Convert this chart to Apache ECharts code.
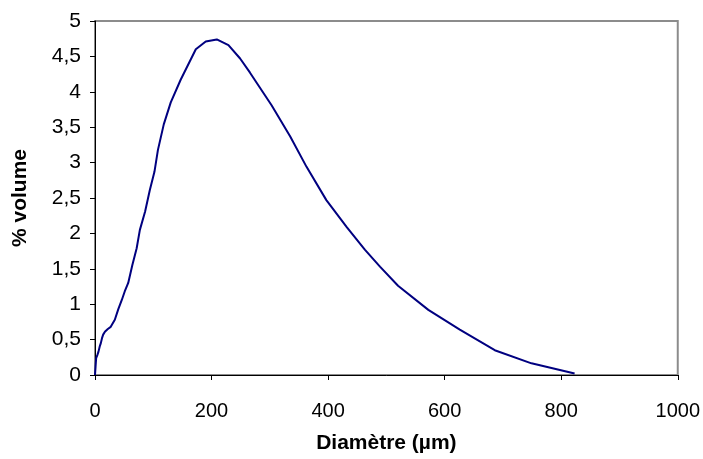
<!DOCTYPE html>
<html>
<head>
<meta charset="utf-8">
<script src="https://cdn.jsdelivr.net/npm/echarts@6/dist/echarts.min.js"></script>
<style>
html, body { margin: 0; padding: 0; background: #fff; }
#chart { width: 703px; height: 459px; }
</style>
</head>
<body>
<div id="chart"></div>
<script>
// diamètre (µm) et % volume
var diametres = [0, 1, 2, 4, 6, 8, 10, 12, 14, 17, 22, 27, 34, 40, 46, 51, 57, 64, 71.5, 77, 86, 94, 102, 108, 118, 130, 147, 173, 190, 209, 229, 249, 266, 303, 335, 363, 397, 432, 463, 489, 520, 572, 626, 686, 749, 823];
var volumes = [0, 0.12, 0.24, 0.28, 0.33, 0.4, 0.45, 0.52, 0.57, 0.61, 0.65, 0.68, 0.78, 0.93, 1.06, 1.18, 1.30, 1.55, 1.79, 2.05, 2.31, 2.61, 2.87, 3.18, 3.54, 3.85, 4.17, 4.60, 4.71, 4.74, 4.66, 4.47, 4.27, 3.81, 3.37, 2.94, 2.47, 2.09, 1.77, 1.53, 1.26, 0.92, 0.64, 0.35, 0.165, 0.02];

var chart = echarts.init(document.getElementById('chart'));
var points = diametres.map(function (d, i) { return [d, volumes[i]]; });

var option = {
    animation: false,
    backgroundColor: '#fff',
    grid: {
        left: 95,
        top: 21,
        right: 24,
        bottom: 84,
        show: true,
        borderColor: '#8c8c8c',
        borderWidth: 2,
        backgroundColor: 'transparent'
    },
    xAxis: {
        type: 'value',
        min: 0,
        max: 1000,
        interval: 200,
        name: 'Diamètre (µm)',
        nameLocation: 'middle',
        nameGap: 58,
        nameTextStyle: {
            fontFamily: 'Liberation Sans',
            fontWeight: 'bold',
            fontSize: 21,
            color: '#000'
        },
        axisLine: { lineStyle: { color: '#000', width: 1 } },
        axisTick: { inside: false, length: 5, lineStyle: { color: '#000' } },
        splitLine: { show: false },
        axisLabel: {
            margin: 26,
            fontFamily: 'Liberation Sans',
            fontSize: 20,
            color: '#000',
            formatter: function (v) { return String(v); }
        }
    },
    yAxis: {
        type: 'value',
        min: 0,
        max: 5,
        interval: 0.5,
        name: '% volume',
        nameLocation: 'middle',
        nameGap: 64,
        nameTextStyle: {
            fontFamily: 'Liberation Sans',
            fontWeight: 'bold',
            fontSize: 21,
            color: '#000'
        },
        axisLine: { show: true, lineStyle: { color: '#000', width: 1 } },
        axisTick: { show: true, inside: false, length: 5, lineStyle: { color: '#000' } },
        splitLine: { show: false },
        axisLabel: {
            margin: 14,
            fontFamily: 'Liberation Sans',
            fontSize: 21,
            color: '#000',
            formatter: function (v) { return String(v).replace('.', ','); }
        }
    },
    series: [{
        type: 'line',
        data: points,
        showSymbol: false,
        symbol: 'none',
        lineStyle: { color: '#000080', width: 2 },
        itemStyle: { color: '#000080' }
    }]
};
chart.setOption(option);
</script>
</body>
</html>
